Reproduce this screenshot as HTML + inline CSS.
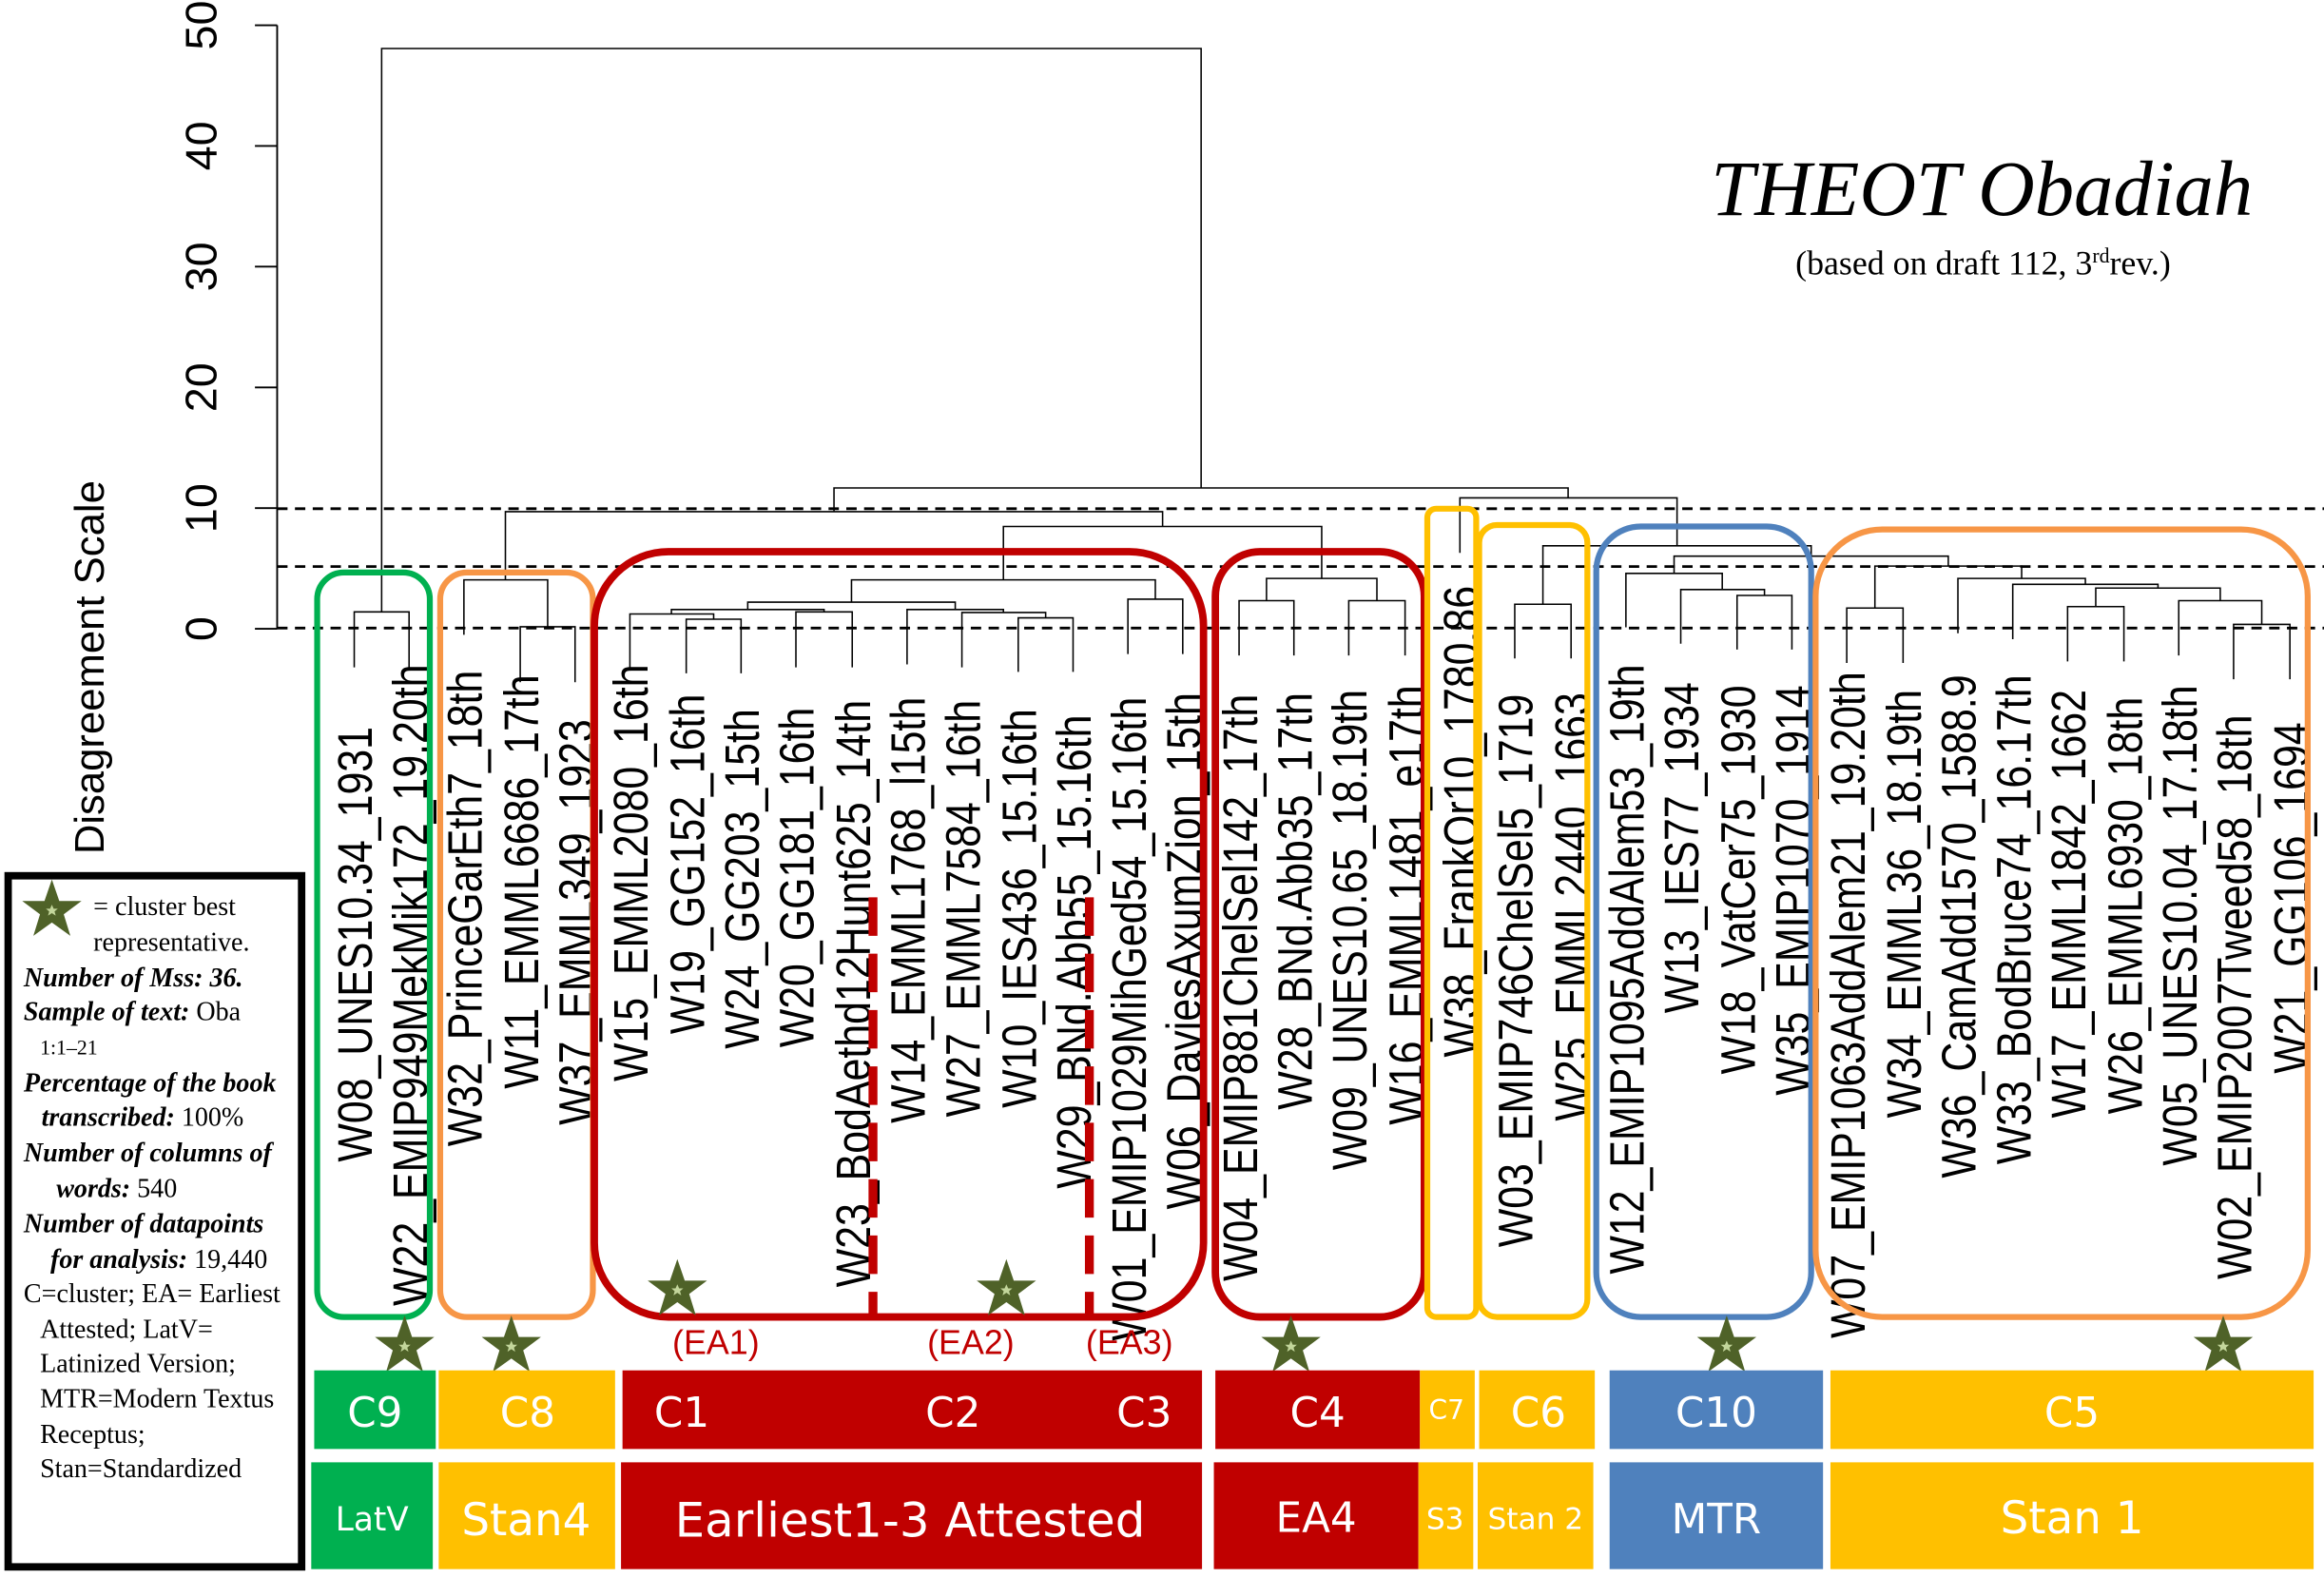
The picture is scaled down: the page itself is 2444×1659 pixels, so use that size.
<!DOCTYPE html>
<html><head><meta charset="utf-8"><style>
html,body{margin:0;padding:0;background:#fff}
svg{display:block}
.lb{font-family:"Liberation Sans",Arial,sans-serif;font-size:27.5px;fill:#000}
.lg{font-family:"Liberation Serif",serif;font-size:18px;fill:#000}
.bi{font-weight:bold;font-style:italic}
.bx{font-family:"DejaVu Sans","Liberation Sans",sans-serif;fill:#fff;text-anchor:middle}
</style></head><body>
<svg width="2444" height="1659" viewBox="0 0 1568 1064" preserveAspectRatio="none" xmlns="http://www.w3.org/2000/svg">
<defs>
<g id="star"><polygon points="0,-21 5,-6.5 20,-6.5 8,2.5 12.5,17 0,8 -12.5,17 -8,2.5 -20,-6.5 -5,-6.5" fill="#4f6228"/><polygon points="0,-4 1.2,-1.3 4,-1.3 1.8,0.6 2.6,3.4 0,1.7 -2.6,3.4 -1.8,0.6 -4,-1.3 -1.2,-1.3" fill="#c3d69b"/></g>
</defs>
<g stroke="#000" stroke-width="1.2" fill="none">
<path d="M187 17 V424 M172 17 H187 M172 98.4 H187 M172 179.8 H187 M172 261.2 H187 M172 342.6 H187 M172 424 H187"/>
</g>
<g font-family="Liberation Sans,Arial,sans-serif" font-size="30" text-anchor="middle">
<text transform="translate(146,17) rotate(-90)">50</text>
<text transform="translate(146,98.4) rotate(-90)">40</text>
<text transform="translate(146,179.8) rotate(-90)">30</text>
<text transform="translate(146,261.2) rotate(-90)">20</text>
<text transform="translate(146,342.6) rotate(-90)">10</text>
<text transform="translate(146,424) rotate(-90)">0</text>
<text transform="translate(70,450) rotate(-90)" font-size="28">Disagreement Scale</text>
</g>
<g stroke="#000" stroke-width="1.8" stroke-dasharray="7,5">
<line x1="187" y1="343" x2="1568" y2="343"/>
<line x1="187" y1="382" x2="1568" y2="382"/>
<line x1="187" y1="423.5" x2="1568" y2="423.5"/>
</g>
<g stroke="#000" stroke-width="1" fill="none">
<path d="M239 450 V412.6 H276 V450"/>
<path d="M257.5 412.6 V32.7 H810.4 V329"/>
<path d="M351 460 V422.6 H388 V460"/>
<path d="M313 428 V391 H369.5 V422.6"/>
<path d="M687 453 V416.6 H724 V453"/>
<path d="M649 450 V413 H705.5 V416.6"/>
<path d="M612 448 V411 H677 V413"/>
<path d="M537 450 V412.6 H575 V450"/>
<path d="M463 454 V417.5 H500 V454"/>
<path d="M425 451 V414 H481.5 V417.5"/>
<path d="M453 414 V411 H556 V412.6"/>
<path d="M504.5 411 V406 H644.5 V411"/>
<path d="M761 441 V404 H798 V441"/>
<path d="M574.5 406 V391 H779.5 V404"/>
<path d="M836 442 V405 H873 V442"/>
<path d="M910 442 V405 H948 V442"/>
<path d="M854.5 405 V390 H929 V405"/>
<path d="M677 391 V355 H891.75 V390"/>
<path d="M341 391 V345 H784.4 V355"/>
<path d="M1022 444 V407.4 H1060 V444"/>
<path d="M1172 438 V401.5 H1209 V438"/>
<path d="M1134 434 V397.5 H1190.5 V401.5"/>
<path d="M1097 423 V386.6 H1162 V397.5"/>
<path d="M1246 447 V410 H1284 V447"/>
<path d="M1507 458 V421 H1545 V458"/>
<path d="M1470 442 V405 H1526 V421"/>
<path d="M1395 446 V409 H1433 V446"/>
<path d="M1414 409 V396.5 H1498 V405"/>
<path d="M1358 431 V394 H1456 V396.5"/>
<path d="M1321 427 V390 H1407 V394"/>
<path d="M1265 410 V381.7 H1364 V390"/>
<path d="M1129.5 386.6 V375 H1314.5 V381.7"/>
<path d="M1041 407.4 V368 H1222 V375"/>
<path d="M985 372.8 V335.7 H1131.5 V368"/>
<path d="M562.7 345 V329 H1058 V335.7"/>
</g>
<g class="lb" text-anchor="end">
<text transform="translate(251,490) rotate(-90) scale(1,1.2)">W08_UNES10.34_1931</text>
<text transform="translate(288,448) rotate(-90) scale(1,1.2)">W22_EMIP949MekMik172_19.20th</text>
<text transform="translate(325,452) rotate(-90) scale(1,1.2)">W32_PrinceGarEth7_18th</text>
<text transform="translate(363,455) rotate(-90) scale(1,1.2)">W11_EMML6686_17th</text>
<text transform="translate(400,485) rotate(-90) scale(1,1.2)">W37_EMML349_1923</text>
<text transform="translate(437,448) rotate(-90) scale(1,1.2)">W15_EMML2080_16th</text>
<text transform="translate(475,468) rotate(-90) scale(1,1.2)">W19_GG152_16th</text>
<text transform="translate(512,478) rotate(-90) scale(1,1.2)">W24_GG203_15th</text>
<text transform="translate(549,477) rotate(-90) scale(1,1.2)">W20_GG181_16th</text>
<text transform="translate(587,472) rotate(-90) scale(1,1.2)">W23_BodAethd12Hunt625_14th</text>
<text transform="translate(624,470) rotate(-90) scale(1,1.2)">W14_EMML1768_l15th</text>
<text transform="translate(661,472) rotate(-90) scale(1,1.2)">W27_EMML7584_16th</text>
<text transform="translate(699,478) rotate(-90) scale(1,1.2)">W10_IES436_15.16th</text>
<text transform="translate(736,482) rotate(-90) scale(1,1.2)">W29_BNd.Abb55_15.16th</text>
<text transform="translate(773,470) rotate(-90) scale(1,1.2)">W01_EMIP1029MihGed54_15.16th</text>
<text transform="translate(810,467) rotate(-90) scale(1,1.2)">W06_DaviesAxumZion_15th</text>
<text transform="translate(848,468) rotate(-90) scale(1,1.2)">W04_EMIP881ChelSel142_17th</text>
<text transform="translate(885,467) rotate(-90) scale(1,1.2)">W28_BNd.Abb35_17th</text>
<text transform="translate(922,465) rotate(-90) scale(1,1.2)">W09_UNES10.65_18.19th</text>
<text transform="translate(960,462) rotate(-90) scale(1,1.2)">W16_EMML1481_e17th</text>
<text transform="translate(997,395) rotate(-90) scale(1,1.2)">W38_FrankOr10_1780.86</text>
<text transform="translate(1034,468) rotate(-90) scale(1,1.2)">W03_EMIP746ChelSel5_1719</text>
<text transform="translate(1072,467) rotate(-90) scale(1,1.2)">W25_EMML2440_1663</text>
<text transform="translate(1109,448) rotate(-90) scale(1,1.2)">W12_EMIP1095AddAlem53_19th</text>
<text transform="translate(1146,460) rotate(-90) scale(1,1.2)">W13_IES77_1934</text>
<text transform="translate(1184,462) rotate(-90) scale(1,1.2)">W18_VatCer75_1930</text>
<text transform="translate(1221,462) rotate(-90) scale(1,1.2)">W35_EMIP1070_1914</text>
<text transform="translate(1258,453) rotate(-90) scale(1,1.2)">W07_EMIP1063AddAlem21_19.20th</text>
<text transform="translate(1296,465) rotate(-90) scale(1,1.2)">W34_EMML36_18.19th</text>
<text transform="translate(1333,455) rotate(-90) scale(1,1.2)">W36_CamAdd1570_1588.9</text>
<text transform="translate(1370,455) rotate(-90) scale(1,1.2)">W33_BodBruce74_16.17th</text>
<text transform="translate(1407,465) rotate(-90) scale(1,1.2)">W17_EMML1842_1662</text>
<text transform="translate(1445,470) rotate(-90) scale(1,1.2)">W26_EMML6930_18th</text>
<text transform="translate(1482,462) rotate(-90) scale(1,1.2)">W05_UNES10.04_17.18th</text>
<text transform="translate(1519,482) rotate(-90) scale(1,1.2)">W02_EMIP2007Tweed58_18th</text>
<text transform="translate(1557,487) rotate(-90) scale(1,1.2)">W21_GG106_1694</text>
</g>
<g fill="none">
<rect x="214" y="386" width="76" height="502" rx="18" stroke="#00b050" stroke-width="4"/>
<rect x="297" y="386" width="103" height="502" rx="18" stroke="#f79646" stroke-width="4"/>
<rect x="401" y="372" width="411" height="516" rx="50" stroke="#c00000" stroke-width="5"/>
<rect x="820" y="372" width="141" height="516" rx="30" stroke="#c00000" stroke-width="5"/>
<rect x="963" y="343" width="33" height="545" rx="6" stroke="#ffc000" stroke-width="4"/>
<rect x="998" y="354" width="73" height="534" rx="12" stroke="#ffc000" stroke-width="4"/>
<rect x="1077" y="355" width="145" height="533" rx="30" stroke="#4f81bd" stroke-width="4"/>
<rect x="1225" y="357" width="332" height="531" rx="45" stroke="#f79646" stroke-width="4"/>
<g stroke="#c00000" stroke-width="6" stroke-dasharray="26,12">
<line x1="589" y1="605" x2="589" y2="888"/>
<line x1="735" y1="605" x2="735" y2="888"/>
</g>
</g>
<use href="#star" x="457" y="870"/>
<use href="#star" x="679" y="870"/>
<use href="#star" x="273" y="908"/>
<use href="#star" x="345" y="908"/>
<use href="#star" x="871" y="908"/>
<use href="#star" x="1165" y="908"/>
<use href="#star" x="1500" y="908"/>
<g font-family="Liberation Sans,Arial,sans-serif" font-size="23" fill="#c00000" text-anchor="middle">
<text x="483" y="913">(EA1)</text>
<text x="655" y="913">(EA2)</text>
<text x="762" y="913">(EA3)</text>
</g>
<rect x="212" y="924" width="82" height="53" fill="#00b050"/>
<rect x="296" y="924" width="119" height="53" fill="#ffc000"/>
<rect x="420" y="924" width="391" height="53" fill="#c00000"/>
<rect x="820" y="924" width="138" height="53" fill="#c00000"/>
<rect x="958" y="924" width="37" height="53" fill="#ffc000"/>
<rect x="998" y="924" width="78" height="53" fill="#ffc000"/>
<rect x="1086" y="924" width="144" height="53" fill="#4f81bd"/>
<rect x="1235" y="924" width="326" height="53" fill="#ffc000"/>
<rect x="210" y="986" width="82" height="72" fill="#00b050"/>
<rect x="296" y="986" width="119" height="72" fill="#ffc000"/>
<rect x="419" y="986" width="392" height="72" fill="#c00000"/>
<rect x="819" y="986" width="138" height="72" fill="#c00000"/>
<rect x="957" y="986" width="37" height="72" fill="#ffc000"/>
<rect x="997" y="986" width="78" height="72" fill="#ffc000"/>
<rect x="1086" y="986" width="144" height="72" fill="#4f81bd"/>
<rect x="1235" y="986" width="326" height="72" fill="#ffc000"/>
<g class="bx" font-size="28">
<text x="253" y="962">C9</text>
<text x="356" y="962">C8</text>
<text x="460" y="962">C1</text>
<text x="643" y="962">C2</text>
<text x="772" y="962">C3</text>
<text x="889" y="962">C4</text>
<text x="976" y="957" font-size="18">C7</text>
<text x="1038" y="962">C6</text>
<text x="1158" y="962">C10</text>
<text x="1398" y="962">C5</text>
<text x="251" y="1032" font-size="22">LatV</text>
<text x="355" y="1035" font-size="30">Stan4</text>
<text x="614" y="1036" font-size="32">Earliest1-3 Attested</text>
<text x="888" y="1033" font-size="28">EA4</text>
<text x="975" y="1031" font-size="20">S3</text>
<text x="1036" y="1031" font-size="20">Stan 2</text>
<text x="1158" y="1034" font-size="28">MTR</text>
<text x="1398" y="1034" font-size="30">Stan 1</text>
</g>
<rect x="5.5" y="590.5" width="198" height="466" fill="none" stroke="#000" stroke-width="5"/>
<use href="#star" x="35" y="614"/>
<g class="lg">
<text x="63" y="617">= cluster best</text>
<text x="63" y="641">representative.</text>
<text x="16" y="665" class="bi">Number of Mss: 36.</text>
<text x="16" y="688"><tspan class="bi">Sample  of text:</tspan> Oba</text>
<text x="27" y="711" font-size="14">1:1–21</text>
<text x="16" y="736" class="bi">Percentage of the book</text>
<text x="28" y="759"><tspan class="bi">transcribed:</tspan> 100%</text>
<text x="16" y="783" class="bi">Number of columns of</text>
<text x="38" y="807"><tspan class="bi">words:</tspan> 540</text>
<text x="16" y="831" class="bi">Number of datapoints</text>
<text x="34" y="855"><tspan class="bi">for analysis:</tspan> 19,440</text>
<text x="16" y="878">C=cluster; EA= Earliest</text>
<text x="27" y="902">Attested; LatV=</text>
<text x="27" y="925">Latinized Version;</text>
<text x="27" y="949">MTR=Modern Textus</text>
<text x="27" y="973">Receptus;</text>
<text x="27" y="996">Stan=Standardized</text>
</g>
<text x="1520" y="145" text-anchor="end" font-family="Liberation Serif,serif" font-style="italic" font-size="53">THEOT Obadiah</text>
<text x="1338" y="185" text-anchor="middle" font-family="Liberation Serif,serif" font-size="23">(based on draft 112, 3<tspan font-size="14" dy="-8">rd</tspan><tspan dy="8">rev.)</tspan></text>
</svg>
</body></html>
